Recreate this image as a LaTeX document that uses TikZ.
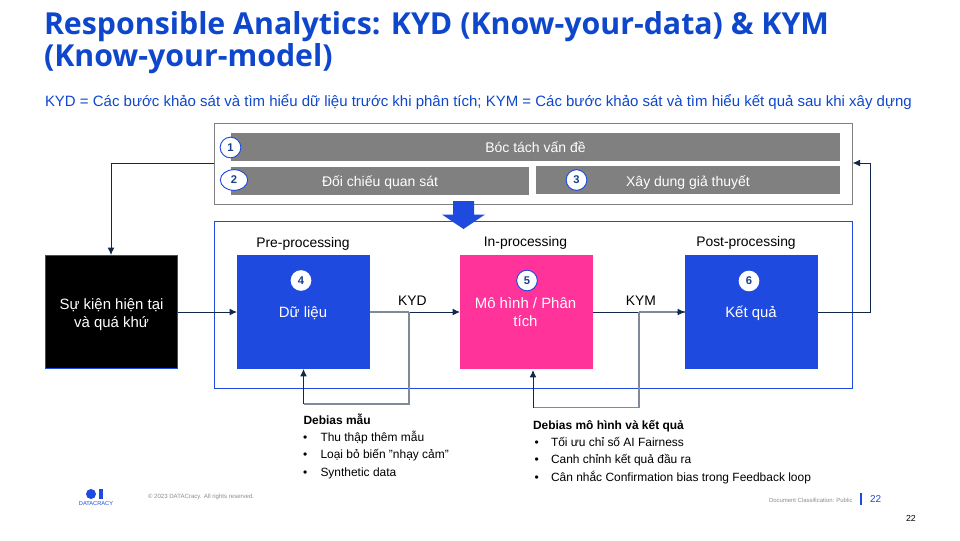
\documentclass[tikz,border=0pt]{standalone}
\usepackage{fontspec}
\setmainfont{Liberation Sans}
\newfontfamily\titlefont{Open Sans}
\usetikzlibrary{shapes.geometric,arrows.meta}
\definecolor{brandblue}{HTML}{1F4AE0}
\definecolor{titleblue}{HTML}{0F47CC}
\definecolor{barGray}{HTML}{808080}
\definecolor{hotpink}{HTML}{FF3399}
\definecolor{navy}{HTML}{10294A}
\definecolor{steel}{HTML}{808B99}
\definecolor{numblue}{HTML}{173F8F}
\newcommand{\fs}[1]{\fontsize{#1}{#1}\selectfont}
\tikzset{
  x=0.75pt,y=-0.75pt,
  every node/.style={outer sep=0pt},
  barbox/.style={fill=barGray,draw=none,text=white,font=\fs{10.5},inner sep=0pt,text height=9.6pt,text depth=1.2pt},
  numdot/.style={circle,fill=white,draw=brandblue,line width=0.7pt,minimum size=15.5pt,inner sep=0pt,font=\bfseries\fs{8.4},text=numblue},
  numplain/.style={numdot,draw=none},
  stagebox/.style={fill=brandblue,draw=none,text=white,inner sep=0pt},
  stagetext/.style={text=white,font=\fs{11.2},inner sep=0pt,align=center},
  caption/.style={font=\fs{10.4},text=black,inner sep=0pt},
  txt/.style={font=\fs{8.97},text=black,inner sep=0pt,anchor=base west},
  boldtxt/.style={txt,font=\bfseries\fs{8.97}},
  linkline/.style={navy,line width=0.6pt},
  branchline/.style={steel,line width=1pt},
  arrowed/.style={-{Latex[length=5.5pt,width=5pt]}},
}
\begin{document}
\begin{tikzpicture}
\path[use as bounding box,fill=white] (0,0) rectangle (960,540);
% title
\node[anchor=west,inner sep=0pt,text=titleblue,font=\titlefont\bfseries\fs{22.72}] (t1) at (44,27) {Responsible Analytics: KYD (Know-your-data) \& KYM};
\node[anchor=west,inner sep=0pt,text=titleblue,font=\titlefont\bfseries\fs{22.72}] (t2) at (44,59) {(Know-your-model)};
\node[anchor=west,inner sep=0pt,text=titleblue,font=\fs{11.24}] (sub) at (45,102.5) {KYD = Các bước khảo sát và tìm hiểu dữ liệu trước khi phân tích; KYM = Các bước khảo sát và tìm hiểu kết quả sau khi xây dựng};
% frames
\node[draw=barGray,line width=0.9pt,minimum width=638.4*0.75pt,minimum height=81*0.75pt,anchor=north west,inner sep=0pt] (top) at (214.3,123.3) {};
\node[draw=brandblue,line width=0.8pt,minimum width=638.4*0.75pt,minimum height=167*0.75pt,anchor=north west,inner sep=0pt] (main) at (214.3,221.3) {};
% bars
\node[barbox,minimum width=609*0.75pt,minimum height=28*0.75pt,anchor=north west] (b1) at (231,133) {Bóc tách vấn đề};
\node[barbox,minimum width=298*0.75pt,minimum height=28*0.75pt,anchor=north west] (b2) at (231,167) {Đối chiếu quan sát};
\node[barbox,minimum width=304*0.75pt,minimum height=28*0.75pt,anchor=north west] (b3) at (536,166) {\raisebox{-0.75pt}{Xây dung giả thuyết}};
\node[numdot] (n1) at (230.5,147.5) {1};
\node[numdot,ellipse,minimum width=20.5pt,minimum height=15.5pt] (n2) at (234,180) {2};
\node[numdot] (n3) at (576.5,180) {3};
% big arrow
\fill[brandblue] (453,201) -- (474,201) -- (474,214.5) -- (485,214.5) -- (463.5,229) -- (442,214.5) -- (453,214.5) -- cycle;
% boxes
\node[fill=black,draw=brandblue,line width=0.7pt,minimum width=132*0.75pt,minimum height=113.5*0.75pt,inner sep=0pt,anchor=north west] (ev) at (45.5,255) {};
\node[stagetext] (l0) at (111.5,314.5) {\parbox{95pt}{\centering\baselineskip=13.5pt Sự kiện hiện tại\\và quá khứ}};
\node[stagebox,minimum width=133*0.75pt,minimum height=114*0.75pt,anchor=north west] (d4) at (237,255) {};
\node[stagebox,fill=hotpink,minimum width=133*0.75pt,minimum height=114*0.75pt,anchor=north west] (d5) at (460,255) {};
\node[stagebox,minimum width=133*0.75pt,minimum height=114*0.75pt,anchor=north west] (d6) at (685,255) {};
\node[numplain] (n4) at (301,280.5) {4};
\node[numdot] (n5) at (527,280.5) {5};
\node[numplain] (n6) at (749,281) {6};
\node[stagetext] (l4) at (303,313.5) {Dữ liệu};
\node[stagetext] (l5) at (525.5,312) {\parbox{95pt}{\centering\baselineskip=13.5pt Mô hình / Phân\\tích}};
\node[stagetext] (l6) at (751,313.5) {Kết quả};
% captions
\node[caption] (c4) at (303,243.5) {Pre-processing};
\node[caption] (c5) at (525.5,242.5) {In-processing};
\node[caption] (c6) at (746,242.5) {Post-processing};
\node[caption] (kyd) at (412.5,300.5) {KYD};
\node[caption] (kym) at (641,300.5) {KYM};
% junctions
\coordinate (j1) at (409,312);
\coordinate (j1b) at (409,404);
\coordinate (j1c) at (303.5,404);
\coordinate (j2) at (639,312);
\coordinate (j2b) at (639,407.5);
\coordinate (j2c) at (533,407.5);
\coordinate (r1) at (870,312);
\coordinate (r2) at (870,163);
\coordinate (l1) at (111,163);
% connectors
\draw[linkline,arrowed] (ev.east |- j1) -- (d4.west |- j1);
\draw[linkline,arrowed] (l1) -- (ev.north -| l1);
\draw[linkline] (top.west |- l1) -- (l1);
\draw[branchline] (d4.east |- j1) -- (j1);
\draw[linkline,arrowed] (j1) -- (d5.west |- j1);
\draw[branchline] (j1) -- (j1b) -- (j1c);
\draw[linkline,arrowed] (j1c) -- (d4.south -| j1c);
\draw[linkline] (d5.east |- j2) -- (j2);
\draw[branchline] (j2) -- (d6.west |- j2);
\draw[linkline,arrowed] ([xshift=-6pt]d6.west |- j2) -- (d6.west |- j2);
\draw[branchline] (j2) -- (j2b) -- (j2c);
\draw[linkline,arrowed] (j2c) -- ([yshift=-0.75pt]d5.south -| j2c);
\draw[linkline] (d6.east |- r1) -- (r1) -- (r2);
\draw[linkline,arrowed] (r2) -- (top.east |- r2);
% notes
\node[boldtxt] (h1) at (303.5,424) {Debias mẫu};
\node[txt] (a1) at (320.5,441) {Thu thập thêm mẫu};
\node[txt] (a2) at (320.5,458.5) {Loại bỏ biến "nhạy cảm"};
\node[txt] (a3) at (320.5,476) {Synthetic data};
\node[txt] (ba1) at (303,441) {•};
\node[txt] (ba2) at (303,458.5) {•};
\node[txt] (ba3) at (303,476) {•};
\node[boldtxt] (h2) at (533,429) {Debias mô hình và kết quả};
\node[txt] (e1) at (551,446) {Tối ưu chỉ số AI Fairness};
\node[txt] (e2) at (551,463.5) {Canh chỉnh kết quả đầu ra};
\node[txt] (e3) at (551,481) {Cân nhắc Confirmation bias trong Feedback loop};
\node[txt] (be1) at (534.5,446) {•};
\node[txt] (be2) at (534.5,463.5) {•};
\node[txt] (be3) at (534.5,481) {•};
% footer
\fill[brandblue] (91,494) circle[radius=5];
\fill[brandblue] (98.5,489) rectangle (102.5,499);
\node[inner sep=0pt,text=brandblue,font=\fs{4.25}] (logo) at (96,504) {DATACRACY};
\node[anchor=west,inner sep=0pt,text=black!45,font=\fs{4.55}] (copy) at (148,497) {© 2023 DATACracy. All rights reserved.};
\node[anchor=west,inner sep=0pt,text=black!45,font=\fs{4.45}] (cls) at (769,500) {Document Classification: Public};
\draw[brandblue,line width=0.8pt] (861,493) -- (861,505);
\node[anchor=west,inner sep=0pt,text=brandblue,font=\fs{7.5}] (pg) at (870,499) {22};
\node[anchor=west,inner sep=0pt,text=black,font=\fs{6.6}] (pg2) at (906,518) {22};
\end{tikzpicture}
\end{document}
